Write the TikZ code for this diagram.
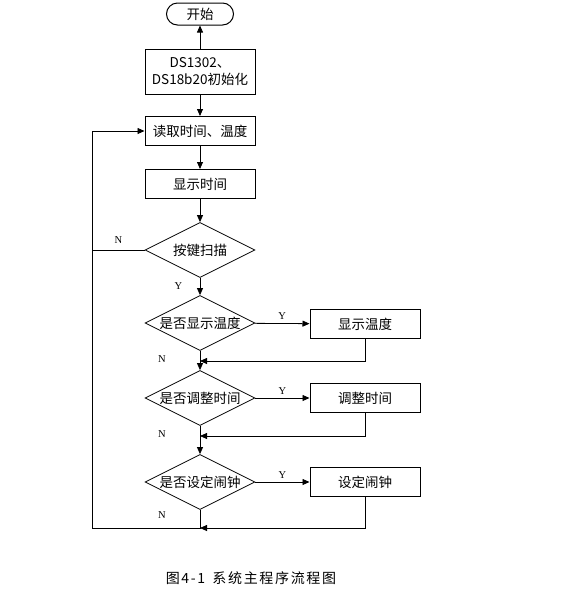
\documentclass[tikz,border=0pt]{standalone}
\usepackage{fontspec}
\setmainfont{Liberation Serif}
\newfontfamily\cjk{Noto Sans CJK SC}
\newfontfamily\cjkwide[LetterSpace=12]{Noto Sans CJK SC}
\usetikzlibrary{arrows.meta,shapes.geometric}

\tikzset{
  arr/.style={-{Triangle[length=7pt,width=6pt]},line width=0.8pt},
  line/.style={line width=0.8pt},
  procbox/.style={draw,line width=1pt,minimum width=110pt,minimum height=29pt,
    inner sep=1pt,font=\cjk\fontsize{13.5}{17}\selectfont},
  askbox/.style={draw,diamond,aspect=2,line width=0.8pt,inner sep=0pt,
    minimum width=110pt,minimum height=55pt,font=\cjk\fontsize{13.5}{15}\selectfont},
  yn/.style={font=\fontsize{10.5}{12}\selectfont}
}

\begin{document}
\begin{tikzpicture}[x=1pt,y=-1pt]
      \useasboundingbox (0,0) rectangle (586,603);
      % main column
      \node[draw,line width=1pt,rounded corners=11pt,minimum width=67pt,minimum height=22pt,
        font=\cjk\fontsize{13.5}{15}\selectfont] (start) at (200,14) {开始};
      \node[procbox,minimum height=45pt,align=center] (init) at (200,72) {DS1302、\\DS18b20初始化};
      \node[procbox] (read) at (200,131) {读取时间、温度};
      \node[procbox] (show) at (200,184) {显示时间};
      \node[askbox] (scan) at (200,250) {按键扫描};
      \node[askbox] (ask1) at (200,323) {是否显示温度};
      \node[askbox] (ask2) at (200,398) {是否调整时间};
      \node[askbox] (ask3) at (200,482) {是否设定闹钟};
      % right column
      \node[procbox] (temp) at (365,324) {显示温度};
      \node[procbox] (adj) at (365,398) {调整时间};
      \node[procbox] (alarm) at (365,482) {设定闹钟};
      % join points
      \coordinate (m1) at (200,361);
      \coordinate (m2) at (200,436);
      \coordinate (m3) at (200,528);
      \coordinate (l1) at (92,250);
      \coordinate (l2) at (92,528);
      % flow
      \draw[arr] (init) -- (start);
      \draw[arr] (init) -- (read);
      \draw[arr] (read) -- (show);
      \draw[arr] (show) -- (scan);
      \draw[arr] (scan) -- node[yn,left=14pt] {Y} (ask1);
      \draw[arr] (ask1) -- (ask2);
      \draw[arr] (ask2) -- (ask3);
      \draw[arr] (ask1) -- node[yn,above] {Y} (temp);
      \draw[arr] (ask2) -- node[yn,above] {Y} (adj);
      \draw[arr] (ask3) -- node[yn,above] {Y} (alarm);
      \draw[arr] (temp.south) |- (m1);
      \draw[arr] (adj.south) |- (m2);
      \draw[arr] (alarm.south) |- (m3);
      \node[yn] (n1) at (162,359) {N};
      \node[yn] (n2) at (162,434) {N};
      \node[yn] (n3) at (162,515) {N};
      % loop back
      \draw[line] (scan.west) -- node[yn,above=3pt] {N} (l1);
      \draw[arr] (ask3.south) -- (m3) -- (l2) |- (read.west);
      % caption
      \node[font=\cjkwide\fontsize{14}{16}\selectfont] (cap) at (251,578) {图4-1\, 系统主程序流程图};
\end{tikzpicture}
\end{document}
